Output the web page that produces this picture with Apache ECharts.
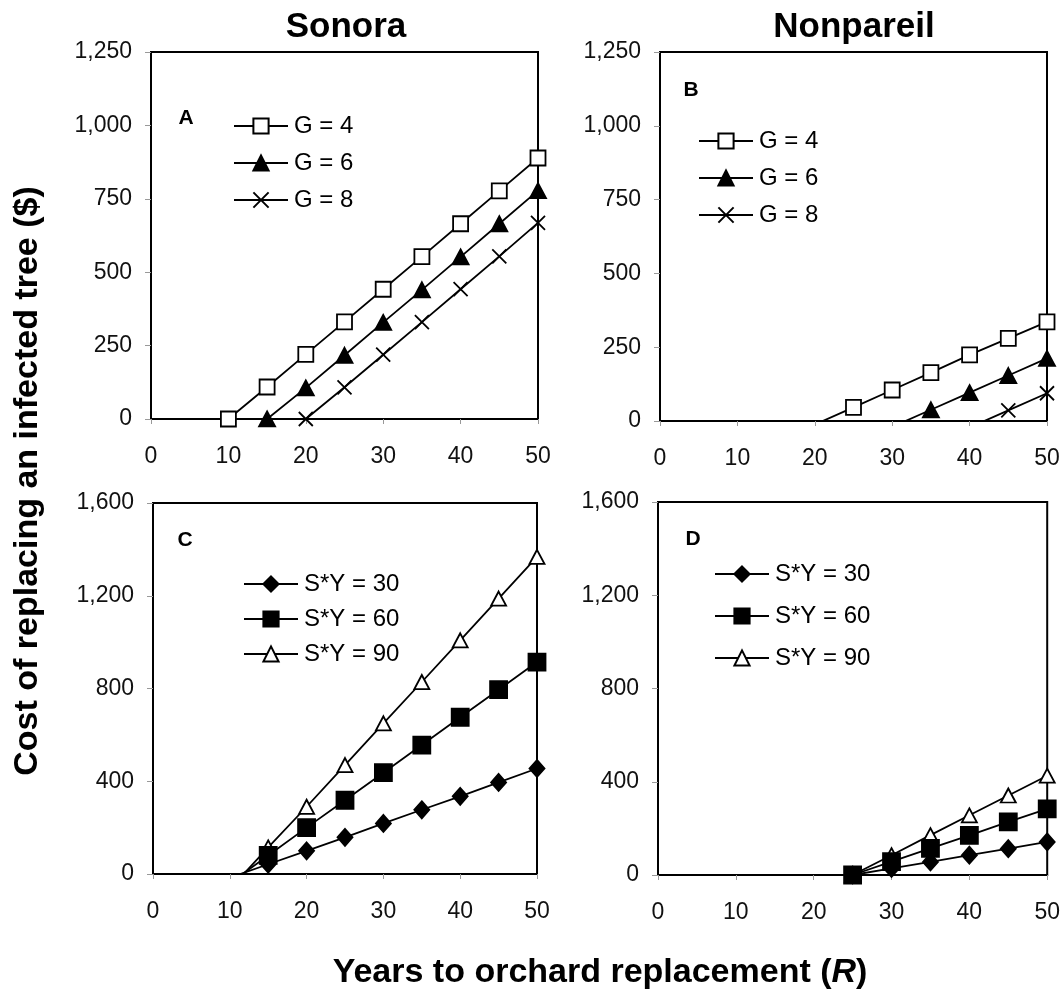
<!DOCTYPE html>
<html>
<head>
<meta charset="utf-8">
<script src="https://cdn.jsdelivr.net/npm/echarts@6/dist/echarts.min.js"></script>
<style>
  html, body { margin: 0; padding: 0; background: #fff; }
  #chart { width: 1063px; height: 991px; }
</style>
</head>
<body>
<div id="chart"></div>
<script>
// years to orchard replacement (x)
const years = [10, 15, 20, 25, 30, 35, 40, 45, 50]
const xTicks = [0, 10, 20, 30, 40, 50]
const yTicksTop = [0, 250, 500, 750, 1000, 1250]
const yTicksBottom = [0, 400, 800, 1200, 1600]

// panel A - Sonora, G
const sonoraG4 = [0, 109, 220, 331, 442, 553, 665, 777, 889]
const sonoraG6 = [null, 0, 106, 217, 329, 440, 552, 665, 778]
const sonoraG8 = [null, null, 0, 108, 219, 330, 442, 554, 668]
// panel B - Nonpareil, G
const nonpareilG4 = [null, null, -12, 46, 105, 164, 224, 280, 336]
const nonpareilG6 = [null, null, null, null, -20, 38, 96, 154, 212]
const nonpareilG8 = [null, null, null, null, null, null, -22, 36, 94]
// panel C - Sonora, S*Y
const sonoraSY30 = [-16, 42, 100, 158, 218, 277, 335, 395, 455]
const sonoraSY60 = [-40, 80, 200, 318, 437, 556, 676, 795, 914]
const sonoraSY90 = [-65, 115, 290, 470, 650, 828, 1008, 1188, 1368]
// panel D - Nonpareil, S*Y
const nonpareilSY30 = [null, null, -28, 0, 28, 56, 85, 113, 142]
const nonpareilSY60 = [null, null, -57, 0, 57, 114, 170, 228, 284]
const nonpareilSY90 = [null, null, -85, 0, 85, 171, 256, 341, 426]

const FONT = 'Liberation Sans, Arial, sans-serif'
const crossPath = 'path://M0,0L10,10M10,0L0,10'

const toPairs = (vals) => years.map((x, i) => [x, vals[i]])

const chart = echarts.init(document.getElementById('chart'))

const grids = [
	{ left: 151, top: 52, width: 387, height: 367 },
	{ left: 660, top: 52, width: 387, height: 369 },
	{ left: 153, top: 503, width: 384, height: 371 },
	{ left: 658, top: 502, width: 391, height: 373 },
]

const xAxes = grids.map((g, i) => ({
	type: 'value',
	gridIndex: i,
	min: xTicks[0],
	max: xTicks[xTicks.length - 1],
	interval: xTicks[1] - xTicks[0],
	axisLine: { show: true, onZero: false, lineStyle: { color: '#000', width: 2 } },
	axisTick: { show: true, length: 5, lineStyle: { color: '#999' } },
	splitLine: { show: false },
	axisLabel: { color: '#111', fontSize: 23, fontFamily: FONT, margin: 26 },
}))

const yAxes = grids.map((g, i) => {
	const ticks = i < 2 ? yTicksTop : yTicksBottom
	return {
		type: 'value',
		gridIndex: i,
		min: ticks[0],
		max: ticks[ticks.length - 1],
		interval: ticks[1] - ticks[0],
		axisLine: { show: true, lineStyle: { color: '#000', width: 2 } },
		axisTick: { show: true, length: 6, lineStyle: { color: '#999' } },
		splitLine: { show: false },
		axisLabel: {
			color: '#111',
			fontSize: 23,
			fontFamily: FONT,
			margin: 19,
			formatter: (v) => v.toLocaleString('en-US'),
		},
	}
})

function makeSeries(name, vals, idx, symbol, size, fill, z) {
	return {
		type: 'line',
		name: name,
		xAxisIndex: idx,
		yAxisIndex: idx,
		data: toPairs(vals),
		symbol: symbol,
		symbolSize: size,
		showAllSymbol: true,
		clip: true,
		z: z || 2,
		lineStyle: { color: '#000', width: 1.8 },
		itemStyle: { color: fill, borderColor: '#000', borderWidth: 1.8 },
		emphasis: { disabled: true },
		animation: false,
	}
}

const series = [
	makeSeries('G = 4', sonoraG4, 0, 'rect', 15, '#fff'),
	makeSeries('G = 6', sonoraG6, 0, 'triangle', [16, 15], '#000'),
	makeSeries('G = 8', sonoraG8, 0, crossPath, 14, '#000'),
	makeSeries('G = 4', nonpareilG4, 1, 'rect', 15, '#fff'),
	makeSeries('G = 6', nonpareilG6, 1, 'triangle', [16, 15], '#000'),
	makeSeries('G = 8', nonpareilG8, 1, crossPath, 14, '#000'),
	makeSeries('S*Y = 30', sonoraSY30, 2, 'diamond', [15, 17], '#000'),
	makeSeries('S*Y = 60', sonoraSY60, 2, 'rect', 17, '#000', 4),
	makeSeries('S*Y = 90', sonoraSY90, 2, 'triangle', [15, 14], '#fff', 3),
	makeSeries('S*Y = 30', nonpareilSY30, 3, 'diamond', [15, 17], '#000'),
	makeSeries('S*Y = 60', nonpareilSY60, 3, 'rect', 17, '#000', 4),
	makeSeries('S*Y = 90', nonpareilSY90, 3, 'triangle', [15, 14], '#fff', 3),
]

function makeLegend(names, left, top, gap) {
	return {
		orient: 'vertical',
		left: left,
		top: top,
		padding: 0,
		itemWidth: 54,
		itemHeight: 19,
		itemGap: gap,
		selectedMode: false,
		data: names,
		textStyle: { color: '#000', fontSize: 24, fontFamily: FONT, padding: [0, 0, 0, 1] },
	}
}

const gNames = ['G = 4', 'G = 6', 'G = 8']
const syNames = ['S*Y = 30', 'S*Y = 60', 'S*Y = 90']

const option = {
	backgroundColor: '#fff',
	animation: false,
	grid: grids.map((g) => Object.assign({ show: true, borderColor: '#000', borderWidth: 2, backgroundColor: '#fff' }, g)),
	xAxis: xAxes,
	yAxis: yAxes,
	legend: [
		makeLegend(gNames, 233, 114, 13),
		makeLegend(gNames, 698, 129, 13),
		makeLegend(syNames, 243, 572, 11),
		makeLegend(syNames, 714, 562, 18),
	],
	graphic: [
		{ type: 'text', x: 346, y: 27, style: { text: 'Sonora', fontSize: 35, fontWeight: 'bold', fontFamily: FONT, fill: '#000', textAlign: 'center', textVerticalAlign: 'middle' } },
		{ type: 'text', x: 854, y: 27, style: { text: 'Nonpareil', fontSize: 35, fontWeight: 'bold', fontFamily: FONT, fill: '#000', textAlign: 'center', textVerticalAlign: 'middle' } },
		{ type: 'text', x: 186, y: 118, style: { text: 'A', fontSize: 21, fontWeight: 'bold', fontFamily: FONT, fill: '#000', textAlign: 'center', textVerticalAlign: 'middle' } },
		{ type: 'text', x: 691, y: 90, style: { text: 'B', fontSize: 21, fontWeight: 'bold', fontFamily: FONT, fill: '#000', textAlign: 'center', textVerticalAlign: 'middle' } },
		{ type: 'text', x: 185, y: 540, style: { text: 'C', fontSize: 21, fontWeight: 'bold', fontFamily: FONT, fill: '#000', textAlign: 'center', textVerticalAlign: 'middle' } },
		{ type: 'text', x: 693, y: 539, style: { text: 'D', fontSize: 21, fontWeight: 'bold', fontFamily: FONT, fill: '#000', textAlign: 'center', textVerticalAlign: 'middle' } },
		{
			type: 'text', x: 28, y: 481, rotation: Math.PI / 2,
			style: { text: 'Cost of replacing an infected tree ($)', fontSize: 34, fontWeight: 'bold', fontFamily: FONT, fill: '#000', textAlign: 'center', textVerticalAlign: 'middle' },
		},
		{
			type: 'text', x: 600, y: 973,
			style: {
				text: 'Years to orchard replacement ({i|R})',
				fontSize: 34, fontWeight: 'bold', fontFamily: FONT, fill: '#000',
				textAlign: 'center', textVerticalAlign: 'middle',
				rich: { i: { fontSize: 34, fontWeight: 'bold', fontStyle: 'italic', fontFamily: FONT, fill: '#000' } },
			},
		},
	],
	series: series,
}

chart.setOption(option)
</script>
</body>
</html>
